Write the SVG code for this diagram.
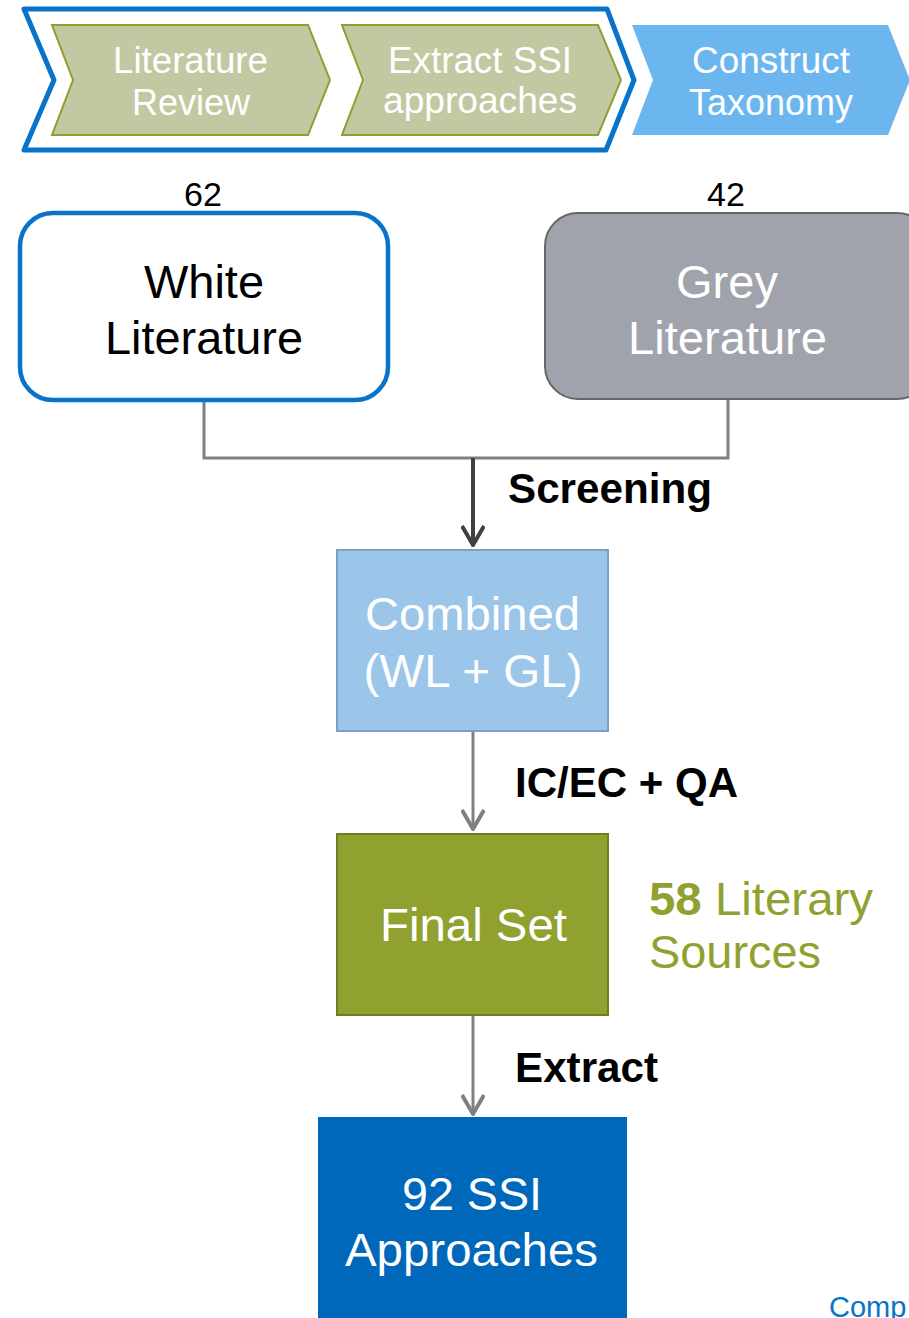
<svg xmlns="http://www.w3.org/2000/svg" width="909" height="1318" viewBox="0 0 909 1318">
  <style>
    text { font-family: "Liberation Sans", Arial, sans-serif; text-anchor: middle; }
    .step { fill: #ffffff; font-size: 36px; }
    .count { fill: #000000; font-size: 34px; }
    .big { font-size: 47px; }
    .lbl { fill: #000000; font-size: 42px; font-weight: bold; text-anchor: start; }
    .wire { fill: none; stroke: #808080; stroke-width: 3; }
    .chev-done { fill: #C2C9A2; stroke: #8E9F2E; stroke-width: 2; }
  </style>
  <defs>
    <marker id="vee-grey" viewBox="0 0 24 22" refX="12" refY="20" markerWidth="24" markerHeight="22" markerUnits="userSpaceOnUse" orient="0">
      <path d="M1,1 L12,20 L23,1" fill="none" stroke="#808080" stroke-width="4"/>
    </marker>
    <marker id="vee-dark" viewBox="0 0 24 22" refX="12" refY="20" markerWidth="24" markerHeight="22" markerUnits="userSpaceOnUse" orient="0">
      <path d="M1,1 L12,20 L23,1" fill="none" stroke="#404040" stroke-width="4"/>
    </marker>
  </defs>

  <!-- process banner -->
  <g id="phase-frame">
    <polygon points="24,9 607,9 634,80 606,150 24,150 54,80" fill="#ffffff" stroke="#0873C9" stroke-width="5" stroke-linejoin="round"/>
  </g>
  <g id="step-literature-review">
    <polygon class="chev-done" points="52,25 308,25 330,80 308,135 52,135 73,80"/>
    <text class="step" x="190.5" y="73" textLength="155" lengthAdjust="spacingAndGlyphs">Literature</text>
    <text class="step" x="191" y="115">Review</text>
  </g>
  <g id="step-extract">
    <polygon class="chev-done" points="342,25 598,25 621,80 598,135 342,135 363,80"/>
    <text class="step" x="480" y="73" textLength="184" lengthAdjust="spacingAndGlyphs">Extract SSI</text>
    <text class="step" x="480" y="113" textLength="194" lengthAdjust="spacingAndGlyphs">approaches</text>
  </g>
  <g id="step-taxonomy">
    <polygon points="632,25 888,25 910,80 888,135 632,135 653,80" fill="#6CB6F0"/>
    <text class="step" x="771" y="73" textLength="158" lengthAdjust="spacingAndGlyphs">Construct</text>
    <text class="step" x="771" y="115" textLength="164" lengthAdjust="spacingAndGlyphs">Taxonomy</text>
  </g>

  <!-- connectors -->
  <g id="connectors">
    <polyline class="wire" points="204,400 204,458 728,458 728,399"/>
    <line x1="473" y1="458" x2="473" y2="545" stroke="#404040" stroke-width="4" marker-end="url(#vee-dark)"/>
    <line class="wire" x1="473" y1="732" x2="473" y2="829" marker-end="url(#vee-grey)"/>
    <line class="wire" x1="473" y1="1015" x2="473" y2="1114" marker-end="url(#vee-grey)"/>
    <text class="lbl" x="508" y="503" textLength="204" lengthAdjust="spacingAndGlyphs">Screening</text>
    <text class="lbl" x="515" y="797" textLength="223" lengthAdjust="spacingAndGlyphs">IC/EC + QA</text>
    <text class="lbl" x="515" y="1082" textLength="143" lengthAdjust="spacingAndGlyphs">Extract</text>
  </g>

  <!-- sources -->
  <g id="white-literature">
    <text class="count" x="203" y="206">62</text>
    <rect x="20" y="213" width="368" height="187" rx="33" fill="#ffffff" stroke="#0873C9" stroke-width="4.5"/>
    <text class="big" x="204" y="298" fill="#000000" font-size="46">White</text>
    <text class="big" x="204" y="354" fill="#000000" textLength="198" lengthAdjust="spacingAndGlyphs">Literature</text>
  </g>
  <g id="grey-literature">
    <text class="count" x="726" y="206">42</text>
    <rect x="545" y="213" width="385" height="186" rx="33" fill="#A0A3AB" stroke="#666666" stroke-width="2"/>
    <text class="big" x="727" y="298" fill="#ffffff" font-size="46">Grey</text>
    <text class="big" x="727.5" y="354" fill="#ffffff" textLength="199" lengthAdjust="spacingAndGlyphs">Literature</text>
  </g>

  <g id="combined">
    <rect x="337" y="550" width="271" height="181" fill="#9BC6EA" stroke="#7BA0C5" stroke-width="2"/>
    <text class="big" x="472.5" y="630" fill="#ffffff" textLength="215" lengthAdjust="spacingAndGlyphs">Combined</text>
    <text class="big" x="473" y="687" fill="#ffffff" textLength="219" lengthAdjust="spacingAndGlyphs">(WL + GL)</text>
  </g>

  <g id="final-set">
    <rect x="337" y="834" width="271" height="181" fill="#90A12F" stroke="#6E7E22" stroke-width="2"/>
    <text class="big" x="473.5" y="941" fill="#ffffff" textLength="187" lengthAdjust="spacingAndGlyphs">Final Set</text>
  </g>

  <g id="final-count">
    <text x="649" y="915" font-size="46" fill="#8FA12F" style="text-anchor:start" textLength="224" lengthAdjust="spacingAndGlyphs"><tspan font-weight="bold">58</tspan> Literary</text>
    <text x="649" y="968" font-size="46" fill="#8FA12F" style="text-anchor:start" textLength="172" lengthAdjust="spacingAndGlyphs">Sources</text>
  </g>

  <g id="ssi-approaches">
    <rect x="318" y="1117" width="309" height="210" fill="#0068BA"/>
    <text class="big" x="472" y="1210" fill="#ffffff" textLength="140" lengthAdjust="spacingAndGlyphs">92 SSI</text>
    <text class="big" x="471.5" y="1266" fill="#ffffff" textLength="253" lengthAdjust="spacingAndGlyphs">Approaches</text>
  </g>

  <g id="footer-link">
    <text x="829" y="1317" font-size="29" fill="#0873C9" style="text-anchor:start">Comp</text>
  </g>
</svg>
